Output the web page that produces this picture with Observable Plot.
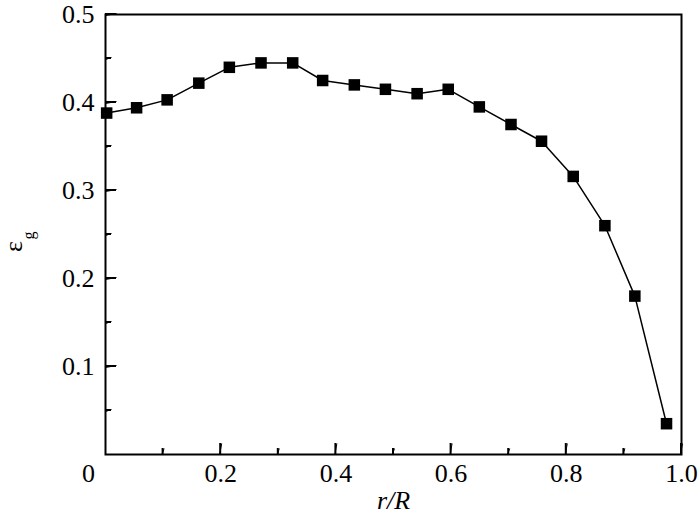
<!DOCTYPE html>
<html>
<head>
<meta charset="utf-8">
<script src="https://cdn.jsdelivr.net/npm/d3@7"></script>
<script src="https://cdn.jsdelivr.net/npm/@observablehq/plot@0.6"></script>
<style>
  html, body { margin: 0; padding: 0; background: #fff; }
  svg text { font-family: "Liberation Serif", "Times New Roman", serif; }
</style>
</head>
<body>
<div id="chart"></div>
<script>
const rR = [0.002, 0.054, 0.107, 0.162, 0.215, 0.270, 0.325, 0.377, 0.432, 0.486, 0.541, 0.595, 0.649, 0.704, 0.757, 0.812, 0.867, 0.919, 0.974];
const eg = [0.388, 0.394, 0.403, 0.422, 0.440, 0.445, 0.445, 0.425, 0.420, 0.415, 0.410, 0.415, 0.395, 0.375, 0.356, 0.316, 0.260, 0.180, 0.035];
const xMajor = [0.2, 0.4, 0.6, 0.8, 1.0];
const xMinor = [0.1, 0.3, 0.5, 0.7, 0.9];
const yMajor = [0.1, 0.2, 0.3, 0.4, 0.5];
const yMinor = [0.05, 0.15, 0.25, 0.35, 0.45];
const xLabel = "r/R";
const yLabelMain = "ε";
const yLabelSub = "g";

const data = rR.map((x, i) => ({x, y: eg[i]}));
const fmt = d3.format(".1f");
const ff = "Liberation Serif";

const W = 700, H = 518, mL = 105, mR = 19, mT = 14, mB = 64;
const pw = W - mL - mR, ph = H - mT - mB;
const xDomain = [0, 1], yDomain = [0, 0.5];
const yPerPx = (yDomain[1] - yDomain[0]) / ph;
const xPerPx = (xDomain[1] - xDomain[0]) / pw;

// inward ticks (major 11px, minor 6px long, 2px wide)
const tickRects = [
  ...xMajor.map(v => ({x1: v - xPerPx, x2: v + xPerPx, y1: 0, y2: 11 * yPerPx})),
  ...xMinor.map(v => ({x1: v - xPerPx, x2: v + xPerPx, y1: 0, y2: 6 * yPerPx})),
  ...yMajor.map(v => ({x1: 0, x2: 11 * xPerPx, y1: v - yPerPx, y2: v + yPerPx})),
  ...yMinor.map(v => ({x1: 0, x2: 6 * xPerPx, y1: v - yPerPx, y2: v + yPerPx}))
];

const chart = Plot.plot({
  width: W,
  height: H,
  marginLeft: mL,
  marginRight: mR,
  marginTop: mT,
  marginBottom: mB,
  style: {fontFamily: ff, fontSize: "24px", color: "#000", background: "#fff"},
  x: {domain: xDomain},
  y: {domain: yDomain},
  marks: [
    Plot.frame({stroke: "#000", fill: "none", strokeWidth: 2}),
    // tick labels
    Plot.axisX(xMajor, {tickSize: 0, tickPadding: 9, tickFormat: fmt, label: null, fontSize: 26, fontFamily: ff}),
    Plot.axisX([0], {tickSize: 0, tickPadding: 9, tickFormat: d => "0", label: null, dx: -17, fontSize: 26, fontFamily: ff}),
    Plot.axisY(yMajor, {tickSize: 0, tickPadding: 11, tickFormat: fmt, label: null, fontSize: 26, fontFamily: ff}),
    Plot.line(data, {x: "x", y: "y", stroke: "#000", strokeWidth: 1.5}),
    Plot.dot(data, {x: "x", y: "y", symbol: "square", r: 6.5, fill: "#000", stroke: "none"}),
    // axis titles
    Plot.text([xLabel], {frameAnchor: "bottom", text: d => d, dy: 46, lineAnchor: "middle", fontSize: 26, fontStyle: "italic", fontFamily: ff}),
    Plot.text([yLabelMain], {frameAnchor: "left", text: d => d, rotate: -90, dx: -92, dy: 12, textAnchor: "middle", lineAnchor: "middle", fontSize: 26, fontFamily: ff}),
    Plot.text([yLabelSub], {frameAnchor: "left", text: d => d, rotate: -90, dx: -77, dy: 1, textAnchor: "middle", lineAnchor: "middle", fontSize: 16, fontFamily: ff}),
    // ticks drawn last, on top of everything
    Plot.rect(tickRects, {x1: "x1", x2: "x2", y1: "y1", y2: "y2", fill: "#000"}),
    Plot.link(tickRects, {x1: "x1", x2: "x2", y1: "y1", y2: "y2", stroke: "#000", strokeWidth: 1})
  ]
});
document.getElementById("chart").appendChild(chart);
</script>
</body>
</html>
